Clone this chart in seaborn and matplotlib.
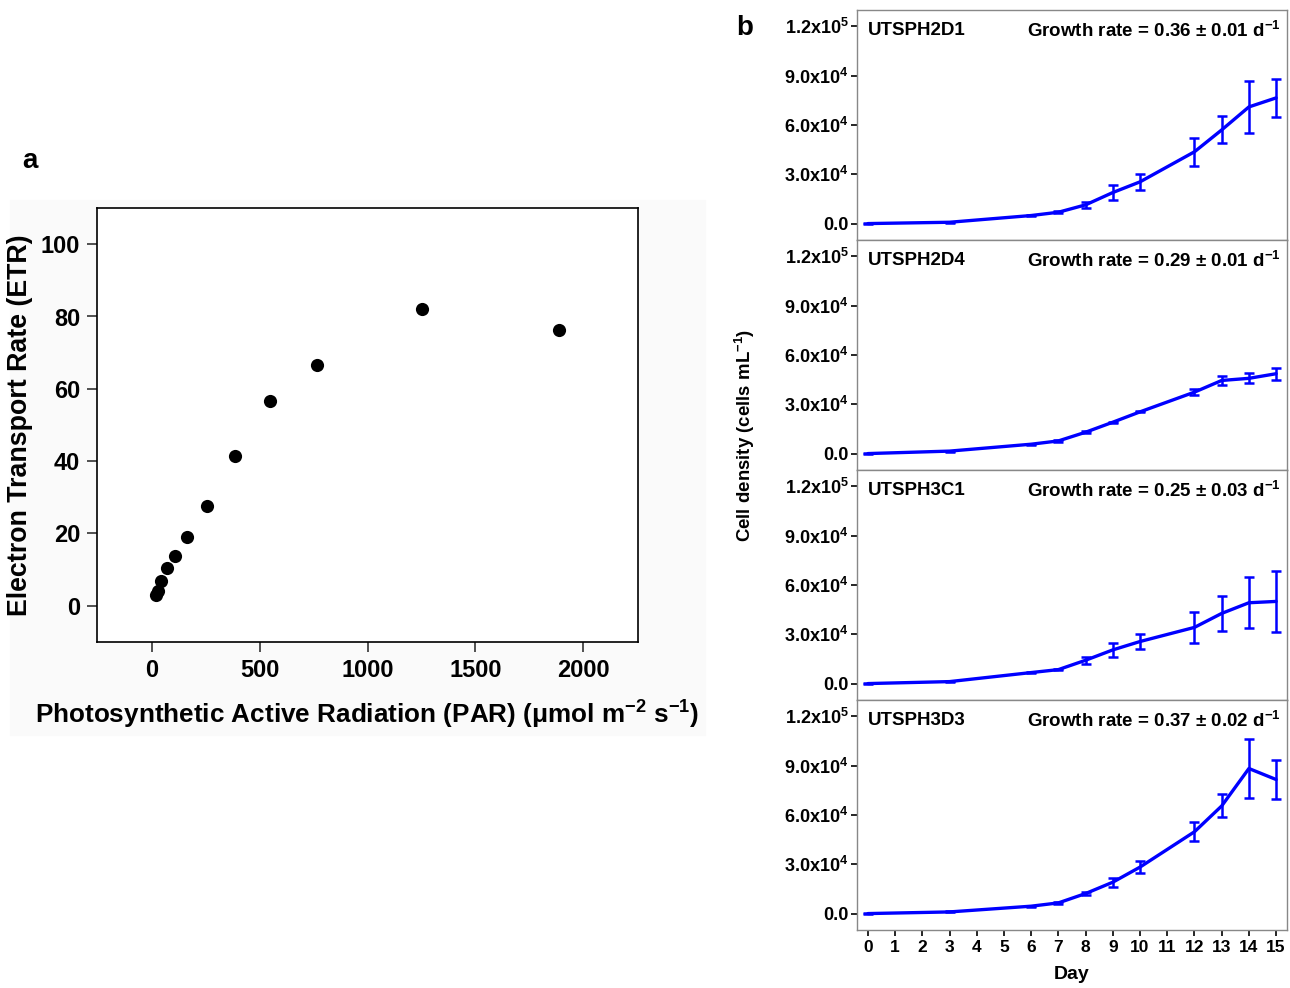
import numpy as np
import pandas as pd
import seaborn as sns
import matplotlib.pyplot as plt
from matplotlib.ticker import FuncFormatter
from matplotlib.patches import Rectangle

# panel a: ETR vs PAR
par = [17, 28, 43, 70, 109, 164, 255, 385, 549, 764, 1255, 1890]
etr = [3.0, 4.0, 7.0, 10.4, 13.9, 19.0, 27.6, 41.5, 56.7, 66.6, 82.2, 76.2]

# panel b: growth curves
days = [0, 3, 6, 7, 8, 9, 10, 12, 13, 14, 15]
strains = ["UTSPH2D1", "UTSPH2D4", "UTSPH3C1", "UTSPH3D3"]
rates = ["0.36 ± 0.01", "0.29 ± 0.01", "0.25 ± 0.03", "0.37 ± 0.02"]
mean_2d1 = [0, 800, 4900, 6900, 11400, 18900, 25400, 43700, 57000, 71000, 76500]
sd_2d1 = [200, 300, 300, 500, 2000, 4700, 4700, 8400, 8200, 16000, 11700]
mean_2d4 = [0, 1500, 5700, 7700, 13000, 19100, 25400, 37400, 44500, 45800, 48600]
sd_2d4 = [200, 300, 300, 400, 600, 400, 300, 1700, 3000, 3000, 3700]
mean_3c1 = [0, 1200, 6700, 8500, 14200, 20500, 25600, 34200, 42700, 49200, 50000]
sd_3c1 = [200, 300, 300, 500, 2200, 4100, 4300, 9300, 10700, 15400, 18400]
mean_3d3 = [0, 1000, 4500, 6500, 12200, 19100, 28300, 49800, 65500, 88300, 81600]
sd_3d3 = [200, 300, 300, 400, 1200, 2700, 3400, 5700, 7000, 17800, 11800]
means = [mean_2d1, mean_2d4, mean_3c1, mean_3d3]
sds = [sd_2d1, sd_2d4, sd_3c1, sd_3d3]

sns.set_style("white")
plt.rcParams['font.family'] = ['Liberation Sans', 'DejaVu Sans']
plt.rcParams['font.weight'] = 'bold'
plt.rcParams['text.color'] = 'black'
plt.rcParams['axes.labelcolor'] = 'black'
plt.rcParams['xtick.color'] = 'black'
plt.rcParams['ytick.color'] = 'black'
plt.rcParams['mathtext.fontset'] = 'custom'
plt.rcParams['mathtext.rm'] = 'Liberation Sans:bold'
plt.rcParams['mathtext.bf'] = 'Liberation Sans:bold'
plt.rcParams['mathtext.default'] = 'rm'

fig = plt.figure(figsize=(12.9, 9.88), dpi=100)
bg = Rectangle((10/1290, 1-735/988), 695/1290, 535/988,
               transform=fig.transFigure, color="#fafafa", zorder=-5)
fig.add_artist(bg)

# ---- panel a
axa = fig.add_axes([97/1290, 1-642/988, 541/1290, 434/988])
axa.set_facecolor("white")
df_a = pd.DataFrame({"PAR": par, "ETR": etr})
sns.scatterplot(data=df_a, x="PAR", y="ETR", ax=axa, color="black", s=90,
                edgecolor="black", linewidth=0, zorder=3)
axa.set_xlim(-255, 2255)
axa.set_ylim(-10, 110)
axa.set_xticks([0, 500, 1000, 1500, 2000])
axa.set_yticks([0, 20, 40, 60, 80, 100])
for sp in axa.spines.values():
    sp.set_color("black")
    sp.set_linewidth(1.2)
axa.tick_params(direction="out", bottom=True, left=True, length=7, width=1.2,
                color="#333333", pad=5, labelsize=17)
axa.set_xlabel("Photosynthetic Active Radiation (PAR) (μmol m$^{-2}$ s$^{-1}$)",
               fontsize=18.8, fontweight="bold", labelpad=12)
axa.set_ylabel("Electron Transport Rate (ETR)", fontsize=19.3, fontweight="bold",
               labelpad=6)
fig.text(30/1290, 1-161/988, "a", fontsize=20, fontweight="bold",
         ha="center", va="center")

# ---- panel b
def sci(v, pos):
    if v == 0:
        return "0.0"
    e = int(np.floor(np.log10(v)))
    return "%.1fx10$^{%d}$" % (v / 10**e, e)

h = 230/988
axes_b = []
for i in range(4):
    top = 10 + i*230
    ax = fig.add_axes([857/1290, 1-(top+230)/988, 430/1290, h])
    df = pd.DataFrame({"Day": days, "Cells": means[i]})
    sns.lineplot(data=df, x="Day", y="Cells", ax=ax, color="#0000ff", linewidth=2.4)
    ax.errorbar(days, means[i], yerr=sds[i], fmt="none", ecolor="#0000ff",
                elinewidth=1.8, capsize=3.5, capthick=1.8)
    ax.set_xlim(-0.4, 15.4)
    ax.set_ylim(-10000, 130000)
    ax.set_yticks([0, 30000, 60000, 90000, 120000])
    ax.yaxis.set_major_formatter(FuncFormatter(sci))
    ax.set_xticks(range(16))
    ax.set_ylabel("")
    ax.set_xlabel("")
    for sp in ax.spines.values():
        sp.set_color("#888888")
        sp.set_linewidth(1.0)
    ax.tick_params(axis="y", direction="out", left=True, length=4, width=1.2,
                   color="black", labelsize=13, pad=2)
    ax.tick_params(axis="x", direction="out", bottom=(i == 3), labelbottom=(i == 3),
                   length=4, width=1.2, color="black", labelsize=12.5, pad=3)
    ax.text(0.025, 0.91, strains[i], transform=ax.transAxes, fontsize=13.5,
            fontweight="bold", ha="left", va="center")
    ax.text(0.985, 0.91, "Growth rate = %s d$^{-1}$" % rates[i], transform=ax.transAxes,
            fontsize=13.5, fontweight="bold", ha="right", va="center")
    axes_b.append(ax)

axes_b[-1].set_xlabel("Day", fontsize=14, fontweight="bold", labelpad=8)
fig.text(745/1290, 1-435/988, "Cell density (cells mL$^{-1}$)", rotation=90,
         fontsize=13.4, fontweight="bold", ha="center", va="center")
fig.text(745/1290, 1-28/988, "b", fontsize=20, fontweight="bold",
         ha="center", va="center")

fig.savefig("out.png", dpi=100)
